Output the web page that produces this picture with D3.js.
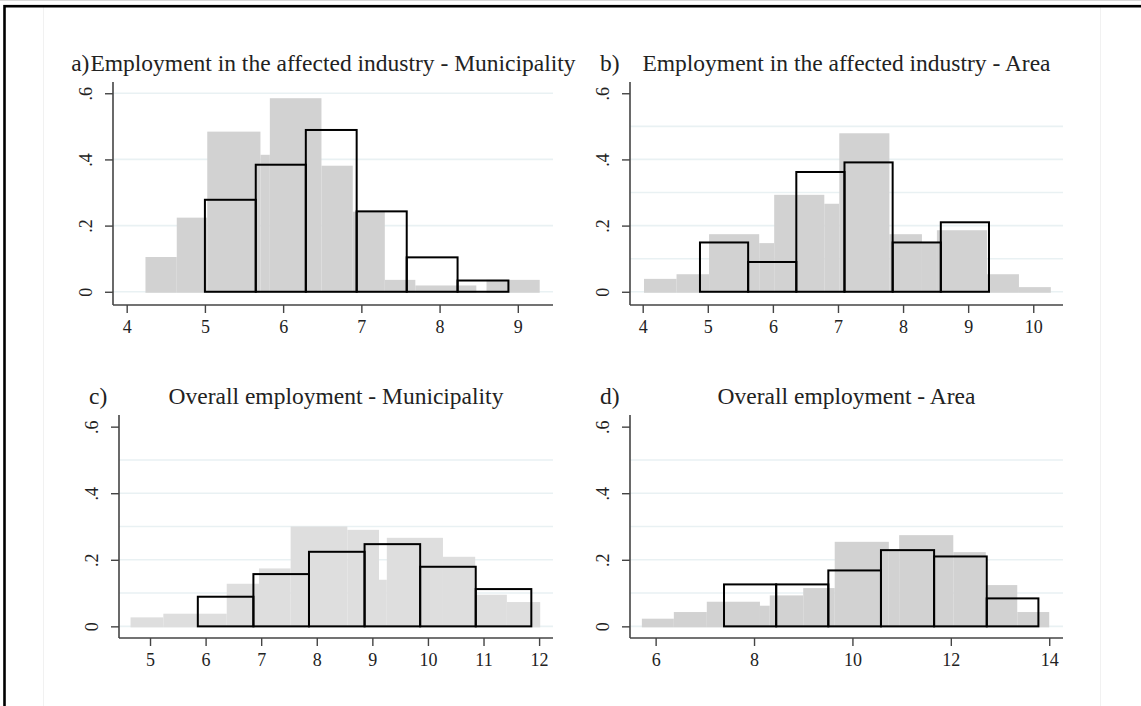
<!DOCTYPE html>
<html>
<head>
<meta charset="utf-8">
<script src="https://cdn.jsdelivr.net/npm/d3@7"></script>
<style>
  html, body { margin: 0; padding: 0; background: #fff; }
  svg { display: block; }
</style>
</head>
<body>
<svg id="chart"></svg>
<script>
// Gray histograms: [from, to, density]
const grayA = [
  [4.24, 4.64, 0.105], [4.64, 5.03, 0.224], [5.03, 5.71, 0.484], [5.71, 5.83, 0.414],
  [5.83, 6.49, 0.585], [6.49, 6.89, 0.381], [6.89, 7.30, 0.242], [7.30, 7.69, 0.036],
  [7.69, 8.47, 0.019], [8.60, 9.28, 0.036]
];
const grayB = [
  [4.02, 4.52, 0.039], [4.52, 5.02, 0.053], [5.02, 5.79, 0.174], [5.79, 6.02, 0.147],
  [6.02, 6.79, 0.293], [6.79, 7.02, 0.266], [7.02, 7.79, 0.479], [7.79, 8.29, 0.174],
  [8.29, 8.52, 0.15], [8.52, 9.29, 0.186], [9.29, 9.78, 0.053], [9.78, 10.27, 0.014]
];
const grayC = [
  [4.65, 5.24, 0.027], [5.24, 6.38, 0.038], [6.38, 6.96, 0.128], [6.96, 7.53, 0.174],
  [7.53, 8.55, 0.30], [8.55, 9.12, 0.29], [9.12, 9.26, 0.14], [9.26, 10.27, 0.266],
  [10.27, 10.85, 0.209], [10.85, 11.42, 0.095], [11.42, 12.02, 0.073]
];
const grayD = [
  [5.72, 6.37, 0.023], [6.37, 7.04, 0.043], [7.04, 8.12, 0.074], [8.12, 8.32, 0.062],
  [8.32, 9.00, 0.093], [9.00, 9.64, 0.115], [9.64, 10.74, 0.254], [10.74, 10.95, 0.23],
  [10.95, 12.05, 0.274], [12.05, 12.71, 0.223], [12.71, 13.35, 0.124], [13.35, 14.00, 0.043]
];

// Outlined histograms: bin edges and densities
const edgesA = [5.0, 5.65, 6.29, 6.94, 7.58, 8.23, 8.88];
const heightsA = [0.278, 0.384, 0.489, 0.243, 0.104, 0.034];
const edgesB = [4.88, 5.62, 6.36, 7.10, 7.84, 8.58, 9.32];
const heightsB = [0.149, 0.090, 0.362, 0.391, 0.149, 0.210];
const edgesC = [5.86, 6.86, 7.86, 8.86, 9.86, 10.86, 11.86];
const heightsC = [0.089, 0.157, 0.224, 0.247, 0.179, 0.112];
const edgesD = [7.39, 8.45, 9.51, 10.58, 11.66, 12.73, 13.78];
const heightsD = [0.126, 0.126, 0.168, 0.229, 0.21, 0.084];

const xTicksA = [4, 5, 6, 7, 8, 9];
const xTicksB = [4, 5, 6, 7, 8, 9, 10];
const xTicksC = [5, 6, 7, 8, 9, 10, 11, 12];
const xTicksD = [6, 8, 10, 12, 14];
const yTicks = [0, 0.2, 0.4, 0.6];
const gridA = [0, 0.2, 0.4, 0.6];
const gridOther = [0, 0.1, 0.2, 0.3, 0.4, 0.5];

const letters = ["a)", "b)", "c)", "d)"];
const titles = [
  "Employment in the affected industry - Municipality",
  "Employment in the affected industry - Area",
  "Overall employment - Municipality",
  "Overall employment - Area"
];

const width = 1141;
const height = 706;
const fontFamily = "Liberation Serif, Times New Roman, serif";

const panels = [
  { gray: grayA, edges: edgesA, heights: heightsA, ticks: xTicksA, grid: gridA,
    xDomain: [3.825, 9.45], x0: 113, x1: 553, yTop: 82, yBottom: 305, yDomain: [-0.04, 0.634],
    titleY: 71, fill: "#d2d2d2" },
  { gray: grayB, edges: edgesB, heights: heightsB, ticks: xTicksB, grid: gridOther,
    xDomain: [3.805, 10.457], x0: 630, x1: 1063, yTop: 82, yBottom: 305, yDomain: [-0.04, 0.634],
    titleY: 71, fill: "#d2d2d2" },
  { gray: grayC, edges: edgesC, heights: heightsC, ticks: xTicksC, grid: gridOther,
    xDomain: [4.442, 12.25], x0: 119, x1: 553, yTop: 415, yBottom: 638, yDomain: [-0.035, 0.635],
    titleY: 404, fill: "#dedede" },
  { gray: grayD, edges: edgesD, heights: heightsD, ticks: xTicksD, grid: gridOther,
    xDomain: [5.479, 14.28], x0: 630, x1: 1063, yTop: 415, yBottom: 638, yDomain: [-0.035, 0.635],
    titleY: 404, fill: "#d2d2d2" }
];

const svg = d3.select("#chart")
  .attr("width", width)
  .attr("height", height)
  .style("font-family", fontFamily);

svg.append("rect").attr("width", width).attr("height", height).attr("fill", "#fff");

// faint plot-region edges
[43.5, 1100.5].forEach((x) => {
  svg.append("line")
    .attr("x1", x).attr("x2", x).attr("y1", 7).attr("y2", height)
    .attr("stroke", "#f1f1f1").attr("stroke-width", 1);
});

// outer frame (cut off at right / bottom)
svg.append("line").attr("x1", 0).attr("x2", width).attr("y1", 0.5).attr("y2", 0.5)
  .attr("stroke", "#d8d8d8").attr("stroke-width", 1);
svg.append("rect")
  .attr("x", 4.5).attr("y", 6.2)
  .attr("width", width + 50).attr("height", height + 50)
  .attr("fill", "none").attr("stroke", "#000").attr("stroke-width", 2.6);

panels.forEach((p, i) => {
  const x = d3.scaleLinear().domain(p.xDomain).range([p.x0, p.x1]);
  const y = d3.scaleLinear().domain(p.yDomain).range([p.yBottom, p.yTop]);
  const g = svg.append("g");

  // grid lines
  g.append("g")
    .selectAll("line")
    .data(p.grid)
    .join("line")
    .attr("x1", p.x0).attr("x2", p.x1)
    .attr("y1", (d) => y(d)).attr("y2", (d) => y(d))
    .attr("stroke", "#e9f1f3").attr("stroke-width", 1.6);

  // gray histogram
  g.append("g")
    .selectAll("rect")
    .data(p.gray)
    .join("rect")
    .attr("x", (d) => x(d[0]))
    .attr("width", (d) => x(d[1]) - x(d[0]))
    .attr("y", (d) => y(d[2]))
    .attr("height", (d) => y(0) - y(d[2]) + 1)
    .attr("fill", p.fill);

  // outlined histogram
  g.append("g")
    .selectAll("rect")
    .data(p.heights)
    .join("rect")
    .attr("x", (d, j) => x(p.edges[j]))
    .attr("width", (d, j) => x(p.edges[j + 1]) - x(p.edges[j]))
    .attr("y", (d) => y(d))
    .attr("height", (d) => y(0) - y(d))
    .attr("fill", "none")
    .attr("stroke", "#000")
    .attr("stroke-width", 2);

  // x axis
  const xAxis = g.append("g")
    .attr("transform", `translate(0,${p.yBottom})`)
    .call(d3.axisBottom(x).tickValues(p.ticks).tickSize(8).tickPadding(7).tickFormat(d3.format("d")));
  xAxis.select(".domain").attr("d", `M${p.x0},0H${p.x1}`);

  // y axis
  const yAxis = g.append("g")
    .attr("transform", `translate(${p.x0},0)`)
    .call(d3.axisLeft(y).tickValues(yTicks).tickSize(8)
      .tickFormat((d) => (d === 0 ? "0" : d3.format(".1f")(d).replace(/^0/, ""))));
  yAxis.select(".domain").attr("d", `M0,${p.yTop}V${p.yBottom}`);
  yAxis.selectAll(".tick text")
    .attr("x", null).attr("dy", null)
    .attr("text-anchor", "middle")
    .attr("transform", "translate(-21,0) rotate(-90)");

  [xAxis, yAxis].forEach((a) => {
    a.select(".domain").attr("stroke", "#444").attr("stroke-width", 1.6);
    a.selectAll(".tick line").attr("stroke", "#444").attr("stroke-width", 1.4);
    a.selectAll(".tick text")
      .attr("fill", "#222")
      .style("font-family", fontFamily)
      .style("font-size", "18px");
  });

  // title centred over the plot, letter to its left
  const title = g.append("text")
    .attr("x", (p.x0 + p.x1) / 2)
    .attr("y", p.titleY)
    .attr("text-anchor", "middle")
    .style("font-size", "23.5px")
    .attr("fill", "#222")
    .text(titles[i]);
  const tw = title.node().getComputedTextLength();
  const letter = g.append("text")
    .attr("y", p.titleY)
    .style("font-size", "23.5px")
    .attr("fill", "#222")
    .text(letters[i]);
  const lw = letter.node().getComputedTextLength();
  const titleLeft = (p.x0 + p.x1) / 2 - tw / 2;
  letter.attr("x", Math.min(p.x0 - 30, titleLeft - lw - 1));
});
</script>
</body>
</html>
